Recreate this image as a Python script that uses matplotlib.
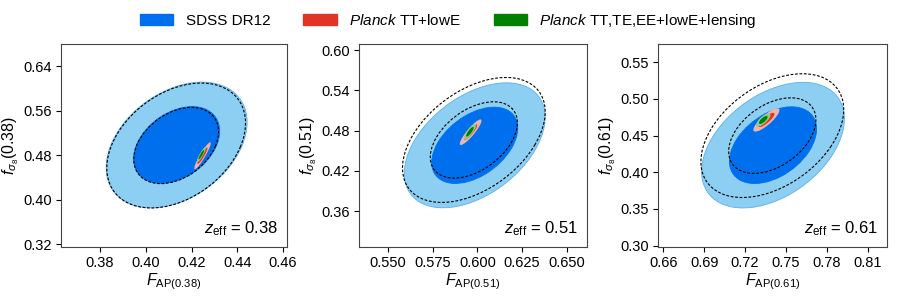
import numpy as np
import matplotlib
matplotlib.use('Agg')
import matplotlib.pyplot as plt
from matplotlib.patches import Ellipse, Patch
from matplotlib.ticker import FormatStrFormatter

plt.rcParams['font.family'] = ['Liberation Sans', 'DejaVu Sans']
plt.rcParams['mathtext.fontset'] = 'custom'
plt.rcParams['mathtext.rm'] = 'Liberation Sans'
plt.rcParams['mathtext.it'] = 'Liberation Sans:italic'
plt.rcParams['mathtext.bf'] = 'Liberation Sans:bold'

# redshift bins
zeff = ['0.38', '0.51', '0.61']

# SDSS DR12 (filled): centre, sigma, correlation  (F_AP, f sigma_8)
sdss_x = [0.4135, 0.5985, 0.7405]
sdss_y = [0.4985, 0.4580, 0.4370]
sdss_sx = [0.0124, 0.0159, 0.0211]
sdss_sy = [0.0455, 0.0375, 0.0345]
sdss_rho = [0.36, 0.45, 0.42]

# dashed contours
dash_x = [0.4133, 0.5980, 0.7400]
dash_y = [0.4975, 0.4660, 0.4500]
dash_sx = [0.0122, 0.0161, 0.0211]
dash_sy = [0.0452, 0.0375, 0.0340]
dash_rho = [0.36, 0.45, 0.42]

# Planck TT+lowE
tt_x = [0.4248, 0.5962, 0.7357]
tt_y = [0.4790, 0.4775, 0.4714]
tt_sx = [0.00145, 0.00245, 0.00385]
tt_sy = [0.0098, 0.0077, 0.0064]
tt_rho = [0.93, 0.90, 0.84]

# Planck TT,TE,EE+lowE+lensing
pl_x = [0.4243, 0.5958, 0.7334]
pl_y = [0.4810, 0.4782, 0.4714]
pl_sx = [0.00080, 0.00140, 0.00210]
pl_sy = [0.0056, 0.0048, 0.0036]
pl_rho = [0.90, 0.84, 0.74]

xlims = [(0.363, 0.4617), (0.5336, 0.6614), (0.6561, 0.8242)]
ylims = [(0.315, 0.68), (0.3064, 0.609), (0.298, 0.575)]
xticks = [[0.38, 0.40, 0.42, 0.44, 0.46],
          [0.550, 0.575, 0.600, 0.625, 0.650],
          [0.66, 0.69, 0.72, 0.75, 0.78, 0.81]]
yticks = [[0.32, 0.40, 0.48, 0.56, 0.64],
          [0.36, 0.42, 0.48, 0.54, 0.60],
          [0.30, 0.35, 0.40, 0.45, 0.50, 0.55]]
xfmt = ['%.2f', '%.3f', '%.2f']

levels = [6.17, 2.30]  # 2 sigma, 1 sigma for 2 params


def ellipse(x, y, sx, sy, rho, dchi2, **kw):
    cov = np.array([[sx * sx, rho * sx * sy], [rho * sx * sy, sy * sy]])
    vals, vecs = np.linalg.eigh(cov)
    ang = np.degrees(np.arctan2(vecs[1, 1], vecs[0, 1]))
    w = 2 * np.sqrt(dchi2 * vals[1])
    h = 2 * np.sqrt(dchi2 * vals[0])
    return Ellipse((x, y), w, h, angle=ang, **kw)


blue = ['#8ccff3', '#006fed']
red = ['#efb3ad', '#e03424']
green = ['#93c98f', '#008000']

fig = plt.figure(figsize=(8.99, 2.98), dpi=100)
lefts = [0.0679, 0.3993, 0.7319]
widths = [0.2513, 0.2536, 0.2548]

for i in range(3):
    ax = fig.add_axes([lefts[i], 0.1711, widths[i], 0.6812])
    for j, lv in enumerate(levels):
        ax.add_patch(ellipse(sdss_x[i], sdss_y[i], sdss_sx[i], sdss_sy[i], sdss_rho[i], lv,
                             facecolor=blue[j], edgecolor='#5aaef0' if j == 0 else blue[j], lw=0.6))
    for lv in levels:
        ax.add_patch(ellipse(dash_x[i], dash_y[i], dash_sx[i], dash_sy[i], dash_rho[i], lv,
                             facecolor='none', edgecolor='black', lw=0.8, ls=(0, (2.5, 1.5))))
    for j, lv in enumerate(levels):
        ax.add_patch(ellipse(tt_x[i], tt_y[i], tt_sx[i], tt_sy[i], tt_rho[i], lv,
                             facecolor=red[j], edgecolor='none'))
    for j, lv in enumerate(levels):
        ax.add_patch(ellipse(pl_x[i], pl_y[i], pl_sx[i], pl_sy[i], pl_rho[i], lv,
                             facecolor=green[j], edgecolor='none'))
    ax.set_xlim(*xlims[i])
    ax.set_ylim(*ylims[i])
    ax.set_xticks(xticks[i])
    ax.set_yticks(yticks[i])
    ax.xaxis.set_major_formatter(FormatStrFormatter(xfmt[i]))
    ax.yaxis.set_major_formatter(FormatStrFormatter('%.2f'))
    ax.tick_params(labelsize=10.5, length=3.5, pad=3)
    ax.set_xlabel(r'$F_{\mathrm{AP}(%s)}$' % zeff[i], fontsize=11.5, labelpad=1)
    ax.set_ylabel(r'$f_{\sigma_8}(%s)$' % zeff[i], fontsize=11.5, labelpad=1.5)
    ax.text(0.96, 0.045, r'$z_{\mathrm{eff}}$ = %s' % zeff[i], transform=ax.transAxes,
            ha='right', va='bottom', fontsize=12)
    for s in ax.spines.values():
        s.set_color('#444444')

handles = [Patch(color=blue[1]), Patch(color=red[1]), Patch(color=green[1])]
labels = ['SDSS DR12', r'$Planck$ TT+lowE', r'$Planck$ TT,TE,EE+lowE+lensing']
fig.legend(handles, labels, loc='center', ncol=3, frameon=False, fontsize=11,
           bbox_to_anchor=(0.4985, 0.93), handlelength=2.2, handleheight=0.8,
           handletextpad=0.8, columnspacing=2.15)

fig.savefig('out.png', dpi=100)
